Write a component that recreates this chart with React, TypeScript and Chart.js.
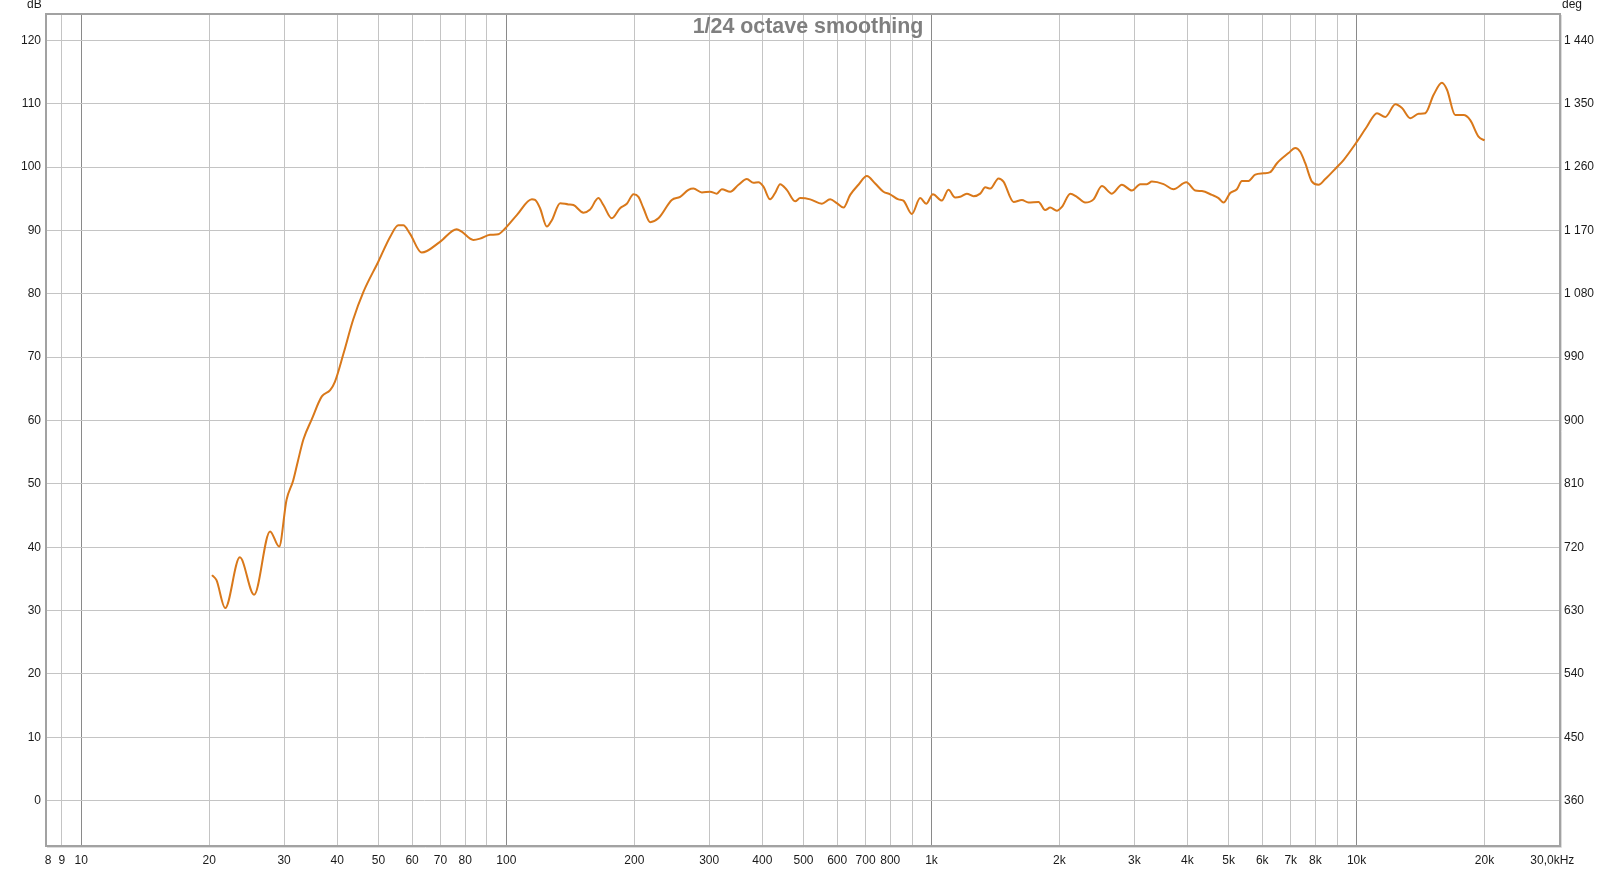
import React, { useEffect, useRef } from 'react';
import { Chart, registerables } from 'chart.js';

Chart.register(...registerables);

// Frequency (Hz) of each read point of the response curve
const freqHz = [
  20.3, 20.8, 21.8, 23.6, 25.5, 27.8, 29.2, 30.4, 31.5, 32.3, 33.3, 34.8, 36.8, 38.5, 39.5,
  41.4, 43.6, 46.1, 50.0, 53.3, 55.7, 57.2, 59.3, 63.2, 69.8, 76.4, 78.5, 83.6, 86.7, 91.5,
  95.7, 99.3, 105.8, 114.8, 116.8, 120.0, 124.5, 127.9, 133.8, 139.9, 143.8, 151.8, 157.4,
  164.6, 169.1, 177, 185.1, 192, 199.1, 204.5, 210.1, 217.8, 227.8, 245, 256.3, 268.1, 275.4,
  288.3, 301.5, 312.6, 321.2, 336.1, 351.6, 367.9, 381.3, 391.7, 402.5, 417.3, 428.7, 440.5,
  456.7, 477.8, 491, 518.4, 552.3, 577.7, 598.9, 620.9, 643.8, 673.3, 704.7, 737.2, 770.9,
  799.2, 836.2, 859, 899.3, 940.6, 971.6, 1008, 1058, 1096, 1137, 1168, 1211, 1256, 1302,
  1338, 1375, 1438, 1477, 1560, 1632, 1691, 1786, 1851, 1902, 1972, 2027, 2121, 2198, 2299,
  2406, 2517, 2657, 2805, 2961, 3098, 3212, 3300, 3516, 3710, 3976, 4174, 4327, 4568, 4734,
  4864, 5043, 5230, 5374, 5570, 5776, 6042, 6266, 6497, 6918, 7174, 7371, 7573, 7852, 8141,
  8441, 8993, 9320, 10020, 10580, 11170, 11680, 12340, 12790, 13380, 13990, 14510, 15180,
  15880, 16320, 17070, 17850, 18510, 19360, 20010,
];

// SPL (dB) at each frequency above
const splDb = [
  35.6, 34.8, 30.4, 38.4, 32.5, 42.5, 40.1, 47.5, 50.5, 53.5, 57.0, 60.1, 63.8, 64.8, 66.1,
  70.6, 75.9, 80.3, 85.1, 89.0, 90.8, 90.8, 89.5, 86.5, 88.2, 90.2, 89.8, 88.5, 88.7, 89.3,
  89.4, 90.3, 92.4, 94.9, 94.8, 93.5, 90.6, 91.6, 94.3, 94.1, 94.0, 92.8, 93.3,
  95.1, 94.0, 91.9, 93.5, 94.2, 95.7, 95.3, 93.5, 91.3, 91.9, 94.8, 95.3, 96.4, 96.6,
  96.0, 96.1, 95.8, 96.5, 96.1, 97.2, 98.1, 97.5, 97.6, 96.9, 94.9, 95.9, 97.3,
  96.4, 94.6, 95.1, 94.9, 94.2, 94.9, 94.3, 93.6, 95.6, 97.2, 98.6, 97.4, 96.1,
  95.7, 94.9, 94.7, 92.6, 95.1, 94.2, 95.7, 94.7, 96.4, 95.2, 95.3, 95.8, 95.4, 95.8,
  96.8, 96.6, 98.2, 97.7, 94.5, 94.8, 94.4, 94.5, 93.2, 93.6, 93.1, 93.7, 95.8, 95.3, 94.4,
  94.9, 97.0, 95.8, 97.2, 96.3, 97.3, 97.3, 97.7, 97.3, 96.5, 97.6, 96.3, 96.2, 95.6, 95.1,
  94.4, 95.9, 96.5, 97.8, 97.8, 98.8, 99.0, 99.2, 100.6, 102.2, 103.0, 102.4, 100.6, 97.7, 97.2,
  98.1, 100.0, 101.1, 104.0, 106.4, 108.5, 107.9, 109.9, 109.3, 107.7, 108.4, 108.5, 111.4,
  113.3, 112.2, 108.2, 108.2, 107.4, 104.8, 104.2,
];

// Axis ranges
const X_MIN = 8.26;
const X_MAX = 30100;
const DB_MIN = -7.15;
const DB_MAX = 124.15;
const DEG_MIN = 360 + 9 * DB_MIN;
const DEG_MAX = 360 + 9 * DB_MAX;

// Frequency grid / tick values and their labels (edge labels are placed just inside the frame)
const freqTickValues = [
  8.35, 9, 10, 20, 30, 40, 50, 60, 70, 80, 90, 100, 200, 300, 400, 500, 600, 700, 800, 900,
  1000, 2000, 3000, 4000, 5000, 6000, 7000, 8000, 9000, 10000, 20000, 28870,
];
const freqTickLabels = [
  '8', '9', '10', '20', '30', '40', '50', '60', '70', '80', '', '100', '200', '300', '400', '500',
  '600', '700', '800', '', '1k', '2k', '3k', '4k', '5k', '6k', '7k', '8k', '', '10k', '20k', '30,0kHz',
];
const decadeValues = [10, 100, 1000, 10000];
const edgeLabelValues = [8.35, 28870];

const dbTicks = [0, 10, 20, 30, 40, 50, 60, 70, 80, 90, 100, 110, 120];
const degTicks = [360, 450, 540, 630, 720, 810, 900, 990, 1080, 1170, 1260, 1350, 1440];
const degLabels = ['360', '450', '540', '630', '720', '810', '900', '990', '1 080', '1 170', '1 260', '1 350', '1 440'];

const titleText = '1/24 octave smoothing';
const leftUnit = 'dB';
const rightUnit = 'deg';

const FONT = '"Liberation Sans", Arial, sans-serif';
const TEXT_COLOR = '#1a1a1a';

const decorPlugin = {
  id: 'decor',
  afterDraw(chart: any) {
    const { ctx, chartArea } = chart;
    const { left, top, right, bottom } = chartArea;
    ctx.save();
    // frame shadow
    ctx.strokeStyle = '#dcdcdc';
    ctx.lineWidth = 1;
    ctx.beginPath();
    ctx.moveTo(right + 1.5, top + 1);
    ctx.lineTo(right + 1.5, bottom + 1.5);
    ctx.lineTo(left + 1, bottom + 1.5);
    ctx.stroke();
    // frame
    ctx.strokeStyle = '#a2a2a2';
    ctx.lineWidth = 2;
    ctx.strokeRect(left, top, right - left, bottom - top);
    // title
    ctx.fillStyle = '#7f7f7f';
    ctx.font = 'bold 21.4px ' + FONT;
    ctx.textAlign = 'center';
    ctx.textBaseline = 'alphabetic';
    ctx.fillText(titleText, 808, 33);
    // unit labels
    ctx.fillStyle = TEXT_COLOR;
    ctx.font = '12px ' + FONT;
    ctx.textAlign = 'left';
    ctx.fillText(leftUnit, 27, 8);
    ctx.fillText(rightUnit, 1562, 8);
    ctx.restore();
  },
};

export default function App() {
  const canvasRef = useRef<HTMLCanvasElement | null>(null);

  useEffect(() => {
    const canvas = canvasRef.current;
    if (!canvas) return;
    const chart = new Chart(canvas, {
      type: 'line',
      data: {
        datasets: [
          {
            data: freqHz.map((f, i) => ({ x: f, y: splDb[i] })),
            borderColor: '#d9781a',
            borderWidth: 2,
            pointRadius: 0,
            fill: false,
            cubicInterpolationMode: 'monotone',
            yAxisID: 'y',
            xAxisID: 'x',
          },
        ],
      },
      options: {
        responsive: false,
        animation: false,
        devicePixelRatio: 1,
        layout: { padding: { top: 14, left: 0, right: 0, bottom: 0 } },
        plugins: {
          legend: { display: false },
          tooltip: { enabled: false },
          title: { display: false },
        },
        scales: {
          x: {
            type: 'logarithmic',
            position: 'bottom',
            min: X_MIN,
            max: X_MAX,
            afterBuildTicks: (s: any) => {
              s.ticks = freqTickValues.map((v) => ({ value: v }));
            },
            afterFit: (s: any) => {
              s.height = 23;
            },
            ticks: {
              autoSkip: false,
              maxRotation: 0,
              minRotation: 0,
              padding: 7,
              color: TEXT_COLOR,
              font: { family: FONT, size: 12 },
              callback: (_v: any, i: number) => freqTickLabels[i],
            },
            grid: {
              drawTicks: false,
              lineWidth: 1,
              color: (c: any) => {
                const v = c.tick ? c.tick.value : null;
                if (edgeLabelValues.includes(v)) return 'rgba(0,0,0,0)';
                return decadeValues.includes(v) ? '#8a8a8a' : '#c4c4c4';
              },
            },
            border: { display: false },
          },
          y: {
            type: 'linear',
            position: 'left',
            min: DB_MIN,
            max: DB_MAX,
            afterBuildTicks: (s: any) => {
              s.ticks = dbTicks.map((v) => ({ value: v }));
            },
            afterFit: (s: any) => {
              s.width = 46;
            },
            ticks: {
              padding: 5,
              color: TEXT_COLOR,
              font: { family: FONT, size: 12 },
              callback: (v: any) => String(v),
            },
            grid: { drawTicks: false, color: '#c4c4c4', lineWidth: 1 },
            border: { display: false },
          },
          y2: {
            type: 'linear',
            position: 'right',
            min: DEG_MIN,
            max: DEG_MAX,
            afterBuildTicks: (s: any) => {
              s.ticks = degTicks.map((v) => ({ value: v }));
            },
            afterFit: (s: any) => {
              s.width = 57;
            },
            ticks: {
              padding: 4,
              color: TEXT_COLOR,
              font: { family: FONT, size: 12 },
              callback: (_v: any, i: number) => degLabels[i],
            },
            grid: { display: false, drawTicks: false },
            border: { display: false },
          },
        },
      } as any,
      plugins: [decorPlugin],
    });
    return () => chart.destroy();
  }, []);

  return (
    <div style={{ position: 'absolute', left: 0, top: 0, width: 1617, height: 869, background: '#ffffff' }}>
      <canvas ref={canvasRef} width={1617} height={869} style={{ display: 'block' }} />
    </div>
  );
}
